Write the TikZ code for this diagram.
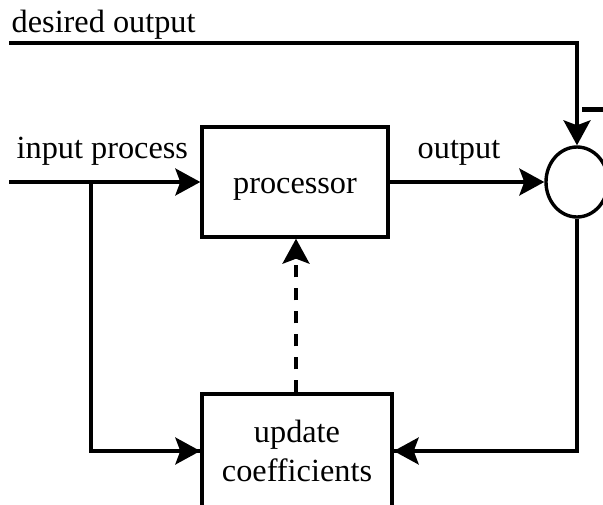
\documentclass[tikz,border=0pt]{standalone}
\usepackage{fontspec}
\setmainfont{Liberation Serif}
\usetikzlibrary{arrows.meta,shapes.geometric}
\begin{document}
\begin{tikzpicture}[x=1pt,y=-1pt,
  line width=3.4pt,
  arr/.style={-{Stealth[length=25pt,width=27pt,inset=5pt]}},
  blockbox/.style={draw,rectangle,inner sep=0pt,font=\fontsize{32.3}{39}\selectfont,align=center},
  lbl/.style={inner sep=0pt,anchor=base west,font=\fontsize{32.3}{39}\selectfont},
  sumnode/.style={draw,ellipse,inner sep=0pt,minimum width=62pt,minimum height=70pt}]
\useasboundingbox (0,0) rectangle (603,504);
\clip (0,0) rectangle (603,504);
% blocks
\node[blockbox,minimum width=186pt,minimum height=110pt] (proc) at (295,182) {\raisebox{-11pt}[0pt][0pt]{processor}};
\node[blockbox,minimum width=190pt,minimum height=114pt] (upd) at (297,451) {update\\coefficients};
\node[sumnode] (sum) at (577,182) {};
% labels
\node[lbl] (ldes) at (10,32) {desired output};
\node[lbl] (lin) at (15,158) {input process};
\node[lbl] (lout) at (416,158) {output};
% free ends
\coordinate (desstart) at (9,43);
\coordinate (inpstart) at (9,182);
\coordinate (branch) at (91,182);
% connectors
\draw[arr] (desstart) -| (sum.north);
\draw[arr] (inpstart) -- (proc.west);
\draw (branch) |- (upd.west);
\draw[arr] (branch |- upd.west) -- (upd.west);
\draw[arr] (proc.east) -- (sum.west);
\draw (sum.south) |- (upd.east);
\draw[arr] (sum.south |- upd.east) -- (upd.east);
\draw[arr,dash pattern=on 12pt off 11pt] (upd.north -| 296,0) -- (proc.south -| 296,0);
% minus sign
\coordinate (m1) at (582,109.5);
\coordinate (m2) at (603,109.5);
\draw[line width=5pt] (m1) -- (m2);
\end{tikzpicture}
\end{document}
